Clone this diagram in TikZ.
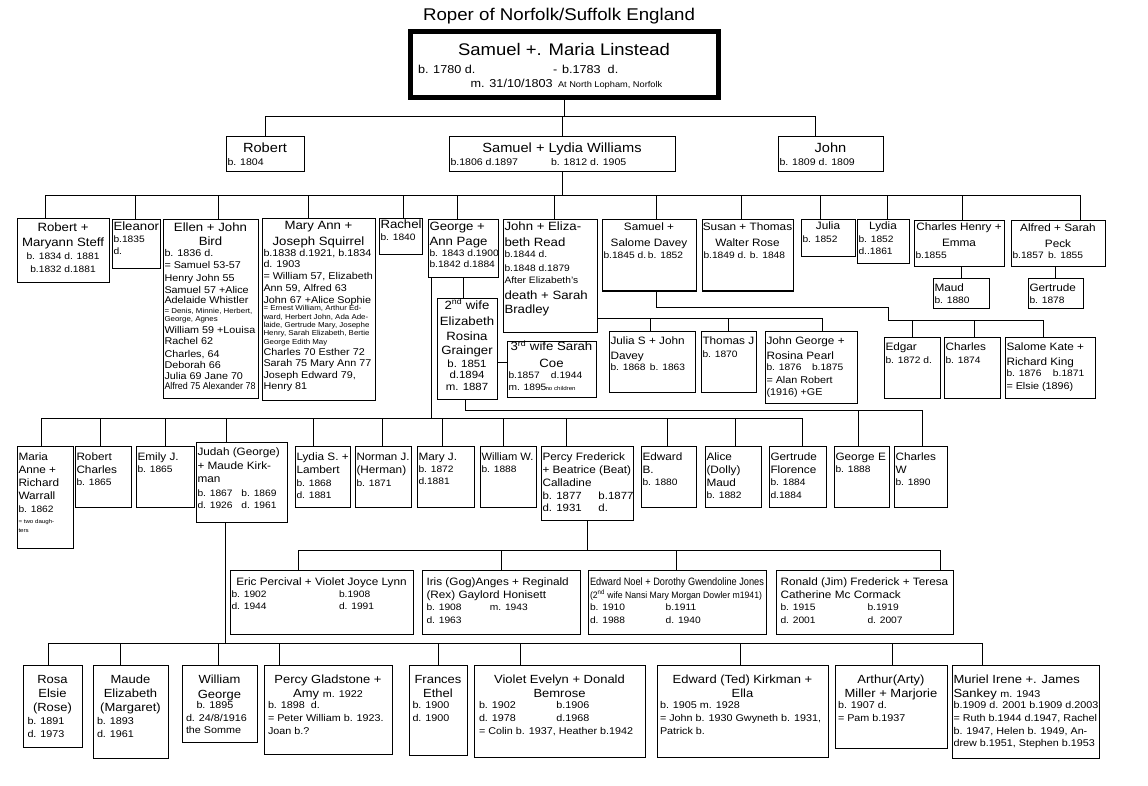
\documentclass[tikz,border=0pt]{standalone}
\usepackage{fontspec}
\setmainfont{Liberation Sans}[FakeStretch=1.1]
\usepackage{graphicx}
\newcommand\fzT{\fontsize{17}{18}\selectfont}
\newcommand\fzN{\fontsize{16.8}{18}\selectfont}
\newcommand\fzD{\fontsize{11.5}{12}\selectfont}
\newcommand\fzS{\fontsize{8.4}{9}\selectfont}
\newcommand\fzR{\fontsize{13.3}{14}\selectfont}
\newcommand\fzr{\fontsize{9.6}{10}\selectfont}
\newcommand\fzg{\fontsize{12}{13}\selectfont}
\newcommand\fza{\fontsize{10.7}{12}\selectfont}
\newcommand\fzb{\fontsize{9.3}{10}\selectfont}
\newcommand\fzc{\fontsize{9.8}{10}\selectfont}
\newcommand\fzd{\fontsize{10.4}{11}\selectfont}
\newcommand\fzt{\fontsize{7.2}{8}\selectfont}
\newcommand\fzx{\fontsize{5.6}{6}\selectfont}
\newcommand\fze{\fontsize{11.8}{12}\selectfont}
\newcommand\fzf{\fontsize{9.8}{10}\selectfont}
\newcommand\lnC[2]{\hbox to\hsize{\vrule height#1pt depth0pt width0pt\hss\smash{#2}\hss}}
\newcommand\lnL[2]{\hbox to\hsize{\vrule height#1pt depth0pt width0pt\kern1.5pt\smash{#2}\hss}}
\newcommand\bxc[3]{\parbox[t][#2pt][t]{#1pt}{\offinterlineskip#3}}
\newcommand\sqz[2]{\resizebox{#1}{\height}{#2}}
\newcommand\colat[2]{\makebox[#1pt][l]{#2}}
\begin{document}
\begin{tikzpicture}[x=1pt,y=-1pt,
  bx/.style={draw,line width=1pt,inner sep=0pt,outer sep=0pt,anchor=north west},
  cn/.style={line width=1pt}]
\useasboundingbox (0,0) rectangle (1148,786);
\fill[white] (0,0) rectangle (1148,786);
\node[anchor=base] (title) at (559,21) {\fzT Roper of Norfolk/Suffolk England};
% top
\node[bx,line width=5pt] (top) at (410,32) {\bxc{308}{66}{%
\lnC{23.3}{\fzN Samuel +. Maria Linstead}
\lnL{18.2}{\fzD\hspace{6.5pt}\colat{135}{b. 1780 d.}\colat{9}{-}b.1783\ \ d.}
\lnL{14}{\fzD\hspace{59.2pt}\colat{87.3}{m. 31/10/1803}{\fzS At North Lopham, Norfolk}}}};
% row 2
\node[bx] (rob) at (226,137) {\bxc{78}{35}{\lnC{16}{\fzR Robert}\lnL{12.5}{\fzr b. 1804}}};
\node[bx] (sl) at (449,137) {\bxc{226}{35}{\lnC{16}{\fzR Samuel + Lydia Williams}\lnL{12.5}{\fzr\colat{100.5}{b.1806 d.1897}b. 1812 d. 1905}}};
\node[bx] (joh) at (778,137) {\bxc{105}{35}{\lnC{16}{\fzR John}\lnL{12.5}{\fzr b. 1809 d. 1809}}};
% row 3
\node[bx] (rm) at (17,219) {\bxc{92}{64}{\lnC{12.5}{\fzg Robert +}\lnC{15}{\fzg Maryann Steff}\lnC{12.6}{\fzb b. 1834 d. 1881}\lnC{13}{\fzb b.1832 d.1881}}};
\node[bx] (el) at (112,220) {\bxc{48}{49}{\lnL{11}{\fzg Eleanor}\lnL{11.3}{\fzb b.1835}\lnL{12.7}{\fzb d.}}};
\node[bx] (eb) at (163,220) {\bxc{95}{178}{%
\lnC{11.7}{\fzg Ellen + John}
\lnC{14.3}{\fzg Bird}
\lnL{10.7}{\fzc b. 1836 d.}
\lnL{12.3}{\fzc = Samuel 53-57}
\lnL{12.3}{\fzc Henry John 55}
\lnL{12}{\fzc Samuel 57 +Alice}
\lnL{10.7}{\fzc Adelaide Whistler}
\lnL{9.3}{\fzt = Denis, Minnie, Herbert,}
\lnL{8.4}{\fzt George, Agnes}
\lnL{11.6}{\fzc William 59 +Louisa}
\lnL{11.7}{\fzc Rachel 62}
\lnL{12.3}{\fzc Charles, 64}
\lnL{11.7}{\fzc Deborah 66}
\lnL{11}{\fzc Julia 69 Jane 70}
\lnL{10}{\fzc\sqz{91pt}{Alfred 75 Alexander 78}}}};
\node[bx] (mj) at (262,219) {\bxc{113}{181}{%
\lnC{11}{\fzg Mary Ann +}
\lnC{16}{\fzg Joseph Squirrel}
\lnL{10.7}{\fzc b.1838 d.1921, b.1834}
\lnL{10.6}{\fzc d. 1903}
\lnL{12}{\fzc = William 57, Elizabeth}
\lnL{12.4}{\fzc Ann 59, Alfred 63}
\lnL{11.6}{\fzc John 67 +Alice Sophie}
\lnL{7.7}{\fzt = Ernest William, Arthur Ed-}
\lnL{8.3}{\fzt ward, Herbert John, Ada Ade-}
\lnL{8.4}{\fzt laide, Gertrude Mary, Josephe}
\lnL{8.3}{\fzt Henry, Sarah Elizabeth, Bertie}
\lnL{8.3}{\fzt George Edith May}
\lnL{11.4}{\fzc Charles 70 Esther 72}
\lnL{11}{\fzc Sarah 75 Mary Ann 77}
\lnL{11.6}{\fzc Joseph Edward 79,}
\lnL{11.7}{\fzc Henry 81}}};
\node[bx] (ra) at (379,219) {\bxc{43}{36}{\lnL{10}{\fzg Rachel}\lnL{11.7}{\fzb b. 1840}}};
\node[bx] (ga) at (428,220) {\bxc{70}{58}{\lnL{10.7}{\fzg George +}\lnL{15.3}{\fzg Ann Page}\lnL{10.7}{\fzb b. 1843 d.1900}\lnL{11}{\fzb b.1842 d.1884}}};
\node[bx] (je) at (503,220) {\bxc{94}{112}{\lnL{10.7}{\fzg John + Eliza-}\lnL{16}{\fzg beth Read}\lnL{10.6}{\fzb b.1844 d.}\lnL{14.4}{\fzb b.1848 d.1879}\lnL{12.3}{\fzb After Elizabeth's}\lnL{16}{\fzg death + Sarah}\lnL{14}{\fzg Bradley}}};
\node[bx] (ew) at (437,298) {\bxc{60}{101}{\lnC{11}{\fzg 2\textsuperscript{nd} wife}\lnC{16}{\fzg Elizabeth}\lnC{15.7}{\fzg Rosina}\lnC{14}{\fzg Grainger}\lnC{12.3}{\fzd b. 1851}\lnC{11.6}{\fzd d.1894}\lnC{11.7}{\fzd m. 1887}}};
\node[bx] (sc) at (507,341) {\bxc{89}{56}{\lnC{9.7}{\fzg 3\textsuperscript{rd} wife Sarah}\lnC{16.6}{\fzg Coe}\lnL{11}{\fzb\colat{42.5}{b.1857}d.1944}\lnL{11.7}{\fzb\colat{37}{m. 1895}{\fzx no children}}}};
\node[bx] (ss) at (602,220) {\bxc{94}{71}{\lnC{10.7}{\fza Samuel +}\lnC{16}{\fza Salome Davey}\lnL{12.3}{\fzb\colat{44.5}{b.1845 d.}b. 1852}}};
\node[bx] (st) at (702,220) {\bxc{91}{71}{\lnC{10.7}{\fza Susan + Thomas}\lnC{16}{\fza Walter Rose}\lnL{12.3}{\fzb\colat{46.5}{b.1849 d.}b. 1848}}};
\node[bx] (ju) at (801,220) {\bxc{54}{37}{\lnC{10}{\fza Julia}\lnL{12.3}{\fzb b. 1852}}};
\node[bx] (ly) at (857,220) {\bxc{52}{44}{\lnC{10}{\fza Lydia}\lnL{12.3}{\fzb b. 1852}\lnL{12}{\fzb d..1861}}};
\node[bx] (ce) at (914,221) {\bxc{90}{46}{\lnC{9.7}{\fza Charles Henry +}\lnC{16}{\fza Emma}\lnL{11.6}{\fzb b.1855}}};
\node[bx] (as) at (1011,221) {\bxc{94}{46}{\lnC{10.7}{\fza Alfred + Sarah}\lnC{15.6}{\fza Peck}\lnL{11.7}{\fzb\colat{35.5}{b.1857}b. 1855}}};
\node[bx] (ma) at (933,279) {\bxc{56}{29}{\lnL{12.7}{\fza Maud}\lnL{11.6}{\fzb b. 1880}}};
\node[bx] (gt) at (1028,279) {\bxc{55}{29}{\lnL{12.7}{\fza Gertrude}\lnL{11.6}{\fzb b. 1878}}};
\node[bx] (js) at (609,331) {\bxc{86}{61}{\lnL{13}{\fza Julia S + John}\lnL{15}{\fza Davey}\lnL{11}{\fzb\colat{39.5}{b. 1868}b. 1863}}};
\node[bx] (tj) at (701,331) {\bxc{55}{61}{\lnL{13}{\fza Thomas J}\lnL{13.7}{\fzb b. 1870}}};
\node[bx] (jg) at (765,331) {\bxc{92}{72}{\lnL{13}{\fza John George +}\lnL{15}{\fza Rosina Pearl}\lnL{11}{\fzb\colat{45.5}{b. 1876}b.1875}\lnL{13.3}{\fzc = Alan Robert}\lnL{11.7}{\fzc (1916) +GE}}};
\node[bx] (eg) at (884,337) {\bxc{56}{61}{\lnL{13}{\fza Edgar}\lnL{13.3}{\fzb b. 1872 d.}}};
\node[bx] (ch) at (944,337) {\bxc{56}{61}{\lnL{13}{\fza Charles}\lnL{13.3}{\fzb b. 1874}}};
\node[bx] (sk) at (1005,337) {\bxc{90}{61}{\lnL{13}{\fza Salome Kate +}\lnL{15}{\fza Richard King}\lnL{11.7}{\fzb\colat{46.5}{b. 1876}b.1871}\lnL{12.3}{\fzc = Elsie (1896)}}};
% row 4
\node[bx] (mr) at (17,446) {\bxc{56}{102}{\lnL{14}{\fza Maria}\lnL{13.3}{\fza Anne +}\lnL{13.4}{\fza Richard}\lnL{12.6}{\fza Warrall}\lnL{13}{\fzb b. 1862}\lnL{11}{\fzx = two daugh-}\lnL{9.4}{\fzx ters}}};
\node[bx] (rc) at (75,446) {\bxc{56}{61}{\lnL{14}{\fza Robert}\lnL{13.3}{\fza Charles}\lnL{12}{\fzb b. 1865}}};
\node[bx] (em) at (136,446) {\bxc{58}{61}{\lnL{14}{\fza Emily J.}\lnL{12}{\fzb b. 1865}}};
\node[bx] (jm) at (196,442) {\bxc{91}{80}{\lnL{13.7}{\fza Judah (George)}\lnL{13.6}{\fza + Maude Kirk-}\lnL{13.4}{\fza man}\lnL{13.3}{\fzb\colat{44}{b. 1867}b. 1869}\lnL{12.3}{\fzb\colat{44}{d. 1926}d. 1961}}};
\node[bx] (ls) at (295,446) {\bxc{55}{61}{\lnL{14}{\fza Lydia S. +}\lnL{13.3}{\fza Lambert}\lnL{12.7}{\fzb b. 1868}\lnL{12.3}{\fzb d. 1881}}};
\node[bx] (nj) at (355,446) {\bxc{56}{61}{\lnL{14}{\fza\sqz{53pt}{Norman J.}}\lnL{13.3}{\fza (Herman)}\lnL{12.7}{\fzb b. 1871}}};
\node[bx] (mjj) at (417,446) {\bxc{57}{61}{\lnL{14}{\fza Mary J.}\lnL{12}{\fzb b. 1872}\lnL{12}{\fzb d.1881}}};
\node[bx] (ww) at (480,446) {\bxc{56}{61}{\lnL{14}{\fza\sqz{52pt}{William W.}}\lnL{12}{\fzb b. 1888}}};
\node[bx] (pf) at (541,446) {\bxc{92}{74}{\lnL{14}{\fza Percy Frederick}\lnL{13.3}{\fza + Beatrice (Beat)}\lnL{13.4}{\fza Calladine}\lnL{12.6}{\fzd\colat{56}{b. 1877}b.1877}\lnL{12.4}{\fzd\colat{56}{d. 1931}d.}}};
\node[bx] (edb) at (641,446) {\bxc{55}{61}{\lnL{14}{\fza Edward}\lnL{13.3}{\fza B.}\lnL{12}{\fzb b. 1880}}};
\node[bx] (ad) at (705,446) {\bxc{56}{61}{\lnL{14}{\fza Alice}\lnL{13.3}{\fza (Dolly)}\lnL{13.4}{\fza Maud}\lnL{12}{\fzb b. 1882}}};
\node[bx] (gf) at (769,446) {\bxc{57}{61}{\lnL{14}{\fza Gertrude}\lnL{13.3}{\fza Florence}\lnL{12}{\fzb b. 1884}\lnL{12.7}{\fzb d.1884}}};
\node[bx] (ge) at (834,446) {\bxc{55}{61}{\lnL{14}{\fza George E}\lnL{12}{\fzb b. 1888}}};
\node[bx] (cw) at (894,446) {\bxc{53}{61}{\lnL{14}{\fza Charles}\lnL{13.3}{\fza W}\lnL{12}{\fzb b. 1890}}};
% row 5
\node[bx] (er) at (230,570) {\bxc{183}{64}{\lnC{15}{\fza Eric Percival + Violet Joyce Lynn}\lnL{12.4}{\fzb\colat{107.5}{b. 1902}b.1908}\lnL{12.5}{\fzb\colat{107.5}{d. 1944}d. 1991}}};
\node[bx] (ir) at (422,570) {\bxc{158}{64}{\lnL{15}{\fza\hspace{3pt}Iris (Gog)Anges + Reginald}\lnL{13}{\fza\hspace{3pt}(Rex) Gaylord Honisett}\lnL{12.5}{\fzb\hspace{3pt}\colat{63.4}{b. 1908}m. 1943}\lnL{13}{\fzb\hspace{3pt}d. 1963}}};
\node[bx] (en) at (588,570) {\bxc{178}{64}{\lnL{15}{\fza\hspace{0.5pt}\sqz{174pt}{Edward Noel + Dorothy Gwendoline Jones}}\lnL{13}{\fzb\hspace{0.5pt}\sqz{172pt}{(2\textsuperscript{nd} wife Nansi Mary Morgan Dowler m1941)}}\lnL{12.5}{\fzb\hspace{0.5pt}\colat{75.7}{b. 1910}b.1911}\lnL{13}{\fzb\hspace{0.5pt}\colat{75.7}{d. 1988}d. 1940}}};
\node[bx] (rj) at (776,570) {\bxc{177}{64}{\lnL{15}{\fza\hspace{3pt}Ronald (Jim) Frederick + Teresa}\lnL{13}{\fza\hspace{3pt}Catherine Mc Cormack}\lnL{12.5}{\fzb\hspace{3pt}\colat{87}{b. 1915}b.1919}\lnL{13}{\fzb\hspace{3pt}\colat{87}{d. 2001}d. 2007}}};
% row 6
\node[bx] (rs) at (23,665) {\bxc{59}{82}{\lnC{18}{\fze Rosa}\lnC{14.5}{\fze Elsie}\lnC{14}{\fze (Rose)}\lnL{13.3}{\fzf\hspace{3pt}b. 1891}\lnL{12.3}{\fzf\hspace{3pt}d. 1973}}};
\node[bx] (mz) at (93,665) {\bxc{75}{93}{\lnC{18}{\fze Maude}\lnC{14.5}{\fze Elizabeth}\lnC{14}{\fze (Margaret)}\lnL{13.3}{\fzf\hspace{2.5pt}b. 1893}\lnL{12.3}{\fzf\hspace{2.5pt}d. 1961}}};
\node[bx] (wg) at (182,665) {\bxc{75}{77}{\lnC{18}{\fze William}\lnC{15}{\fze George}\lnL{10}{\fzf\hspace{13pt}b. 1895}\lnL{13.4}{\fzf\hspace{2.5pt}d. 24/8/1916}\lnL{12.3}{\fzf\hspace{2.5pt}the Somme}}};
\node[bx] (pg) at (264,665) {\bxc{128}{89}{\lnC{18}{\fze Percy Gladstone +}\lnC{14.5}{\fze Amy {\fzf m. 1922}}\lnL{11}{\fzf\hspace{2.5pt}b. 1898\ \ d.}\lnL{13.3}{\fzf\hspace{2.5pt}= Peter William b. 1923.}\lnL{12.3}{\fzf\hspace{2.5pt}Joan b.?}}};
\node[bx] (fe) at (409,665) {\bxc{58}{90}{\lnC{18}{\fze Frances}\lnC{14.5}{\fze Ethel}\lnL{11}{\fzf\hspace{2pt}b. 1900}\lnL{13.3}{\fzf\hspace{2pt}d. 1900}}};
\node[bx] (vb) at (474,665) {\bxc{171}{92}{\lnC{18}{\fze Violet Evelyn + Donald}\lnC{14.5}{\fze Bemrose}\lnL{11}{\fzf\hspace{3.5pt}\colat{77.4}{b. 1902}b.1906}\lnL{13.3}{\fzf\hspace{3.5pt}\colat{77.4}{d. 1978}d.1968}\lnL{12.3}{\fzf\hspace{3.5pt}= Colin b. 1937, Heather b.1942}}};
\node[bx] (ek) at (657,665) {\bxc{171}{92}{\lnC{18}{\fze Edward (Ted) Kirkman +}\lnC{14.5}{\fze Ella}\lnL{11}{\fzf\hspace{1.5pt}b. 1905 m. 1928}\lnL{13.3}{\fzf\hspace{1.5pt}= John b. 1930 Gwyneth b. 1931,}\lnL{12.3}{\fzf\hspace{1.5pt}Patrick b.}}};
\node[bx] (am) at (835,665) {\bxc{112}{83}{\lnC{18}{\fze Arthur(Arty)}\lnC{14.5}{\fze Miller + Marjorie}\lnL{11}{\fzf\hspace{1.5pt}b. 1907 d.}\lnL{13.3}{\fzf\hspace{1.5pt}= Pam b.1937}}};
\node[bx] (mi) at (952,665) {\bxc{147}{93}{\lnL{18}{\fze Muriel Irene +. James}\lnL{14.5}{\fze Sankey {\fzf m. 1943}}\lnL{11}{\fzf b.1909 d. 2001 b.1909 d.2003}\lnL{13.3}{\fzf = Ruth b.1944 d.1947, Rachel}\lnL{12.3}{\fzf b. 1947, Helen b. 1949, An-}\lnL{12.5}{\fzf drew b.1951, Stephen b.1953}}};
% connectors
\coordinate (b2) at ([yshift=-19pt]top.south);
\draw[cn] (top.south) -- (b2);
\draw[cn] (rob.north) |- (b2);
\draw[cn] (sl.north) |- (b2);
\draw[cn] ([xshift=-15.5pt]joh.north) |- (b2);
\coordinate (b3) at ([yshift=-24pt]sl.south);
\draw[cn] (sl.south) -- (b3);
\foreach \n/\s in {rm/-18,el/-1,eb/7.5,mj/-10.5,ra/2.5,ga/-6,je/4,ss/7,st/-6.5,ju/-8,ly/4,ce/3,as/22}
  \draw[cn] ([xshift=\s pt]\n.north) |- (b3);
\draw[cn] (ma.north |- ce.south) -- (ma.north);
\draw[cn] (gt.north |- as.south) -- (gt.north);
\coordinate (b4) at ([xshift=3pt,yshift=-140pt]ga.south west);
\draw[cn] ([xshift=3pt]ga.south west) -- (b4);
\foreach \n/\s in {mr/-4,rc/-3,em/0,jm/-15.5,ls/-9.5,nj/-1,mjj/-3.5,ww/-5,pf/-21,edb/-1.5,ad/2,gf/4.5}
  \draw[cn] ([xshift=\s pt]\n.north) |- (b4);
\draw[cn] (ga.south) -- (ga.south |- ew.north);
\coordinate (b4w) at ([xshift=-2pt,yshift=-11pt]ew.south);
\draw[cn] ([xshift=-2pt]ew.south) -- (b4w);
\foreach \n/\s in {ge/-3.5,cw/1.5}
  \draw[cn] ([xshift=\s pt]\n.north) |- (b4w);
\draw[cn] ([yshift=7pt]sc.west) -- ([yshift=7pt]sc.west -| ew.east);
\coordinate (bje) at ([yshift=14pt]je.south east);
\foreach \n/\s in {js/-2,tj/0,jg/11}
  \draw[cn] ([xshift=\s pt]\n.north) |- (bje);
\coordinate (bss) at ([xshift=-24pt,yshift=17pt]eg.north);
\draw[cn] ([xshift=7pt]ss.south) |- ([yshift=13pt]bss) -- (bss);
\foreach \n/\s in {eg/0,ch/2,sk/-7}
  \draw[cn] ([xshift=\s pt]\n.north) |- (bss);
\coordinate (b5) at ([yshift=-30pt]pf.south);
\draw[cn] (pf.south) -- (b5);
\foreach \n/\s in {er/-23.5,ir/0,en/-1,rj/75.5}
  \draw[cn] ([xshift=\s pt]\n.north) |- (b5);
\coordinate (b6) at ([xshift=-16pt,yshift=-121pt]jm.south);
\draw[cn] ([xshift=-16pt]jm.south) -- (b6);
\foreach \n/\s in {rs/-4.5,mz/-10.5,wg/-1.5,pg/-49,fe/0,vb/-39.5,ek/-2.5,am/1,mi/-43.5}
  \draw[cn] ([xshift=\s pt]\n.north) |- (b6);
\end{tikzpicture}
\end{document}
